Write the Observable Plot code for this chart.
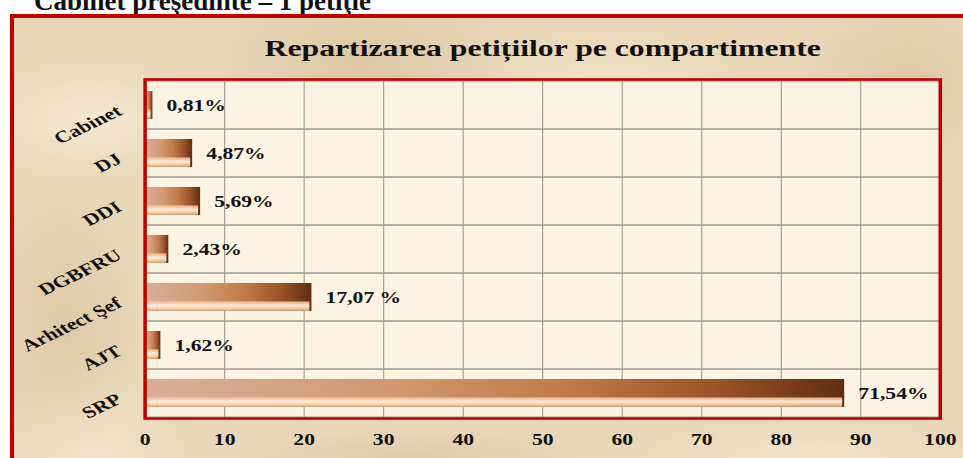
<!DOCTYPE html>
<html>
<head>
<meta charset="utf-8">
<script src="https://cdn.jsdelivr.net/npm/d3@7"></script>
<script src="https://cdn.jsdelivr.net/npm/@observablehq/plot@0.6"></script>
<style>
  body { margin: 0; background: #fff; }
  #page { position: relative; width: 963px; height: 458px; overflow: hidden; background: #fff; }
  #toptext { position: absolute; left: 34px; top: -12px; font: bold 27px/27px "Liberation Serif", serif; color: #111; white-space: nowrap; }
  #parch {
    position: absolute; left: 10px; top: 14px; width: 1000px; height: 520px; box-sizing: border-box;
    border: 4px solid #c00000;
    background:
      radial-gradient(ellipse 180px 90px at 8% 20%, rgba(255,246,228,0.55), transparent 70%),
      radial-gradient(ellipse 220px 120px at 35% 8%, rgba(196,162,118,0.30), transparent 70%),
      radial-gradient(ellipse 200px 100px at 60% 15%, rgba(255,244,222,0.45), transparent 70%),
      radial-gradient(ellipse 160px 120px at 90% 12%, rgba(200,168,126,0.30), transparent 70%),
      radial-gradient(ellipse 120px 200px at 5% 60%, rgba(200,168,128,0.30), transparent 70%),
      radial-gradient(ellipse 140px 160px at 8% 88%, rgba(255,246,228,0.45), transparent 70%),
      radial-gradient(ellipse 260px 60px at 40% 88%, rgba(198,164,122,0.30), transparent 70%),
      radial-gradient(ellipse 260px 60px at 80% 86%, rgba(255,244,224,0.40), transparent 70%),
      #e9d7b8;
  }
  #chart { position: absolute; left: 0; top: 0; transform: scaleX(1.35); transform-origin: 0 0; }
</style>
</head>
<body>
<div id="page">
  <div id="toptext">Cabinet preşedinte – 1 petiţie</div>
  <div id="parch"></div>
  <div id="chart"></div>
</div>
<script>
const chartTitle = "Repartizarea petițiilor pe compartimente";
const categories = ["Cabinet", "DJ", "DDI", "DGBFRU", "Arhitect Şef", "AJT", "SRP"];
const counts = [1, 6, 7, 3, 21, 2, 88];
const percentLabels = ["0,81%", "4,87%", "5,69%", "2,43%", "17,07 %", "1,62%", "71,54%"];
const xTicks = [0, 10, 20, 30, 40, 50, 60, 70, 80, 90, 100];

const rows = categories.map((c, i) => ({cat: c, count: counts[i], pct: percentLabels[i]}));

const gridColor = "#9d978f";

function defsMark() {
  const g = d3.create("svg:g");
  const defs = g.append("defs");
  const face = defs.append("linearGradient").attr("id", "barFace").attr("x1", 0).attr("x2", 1).attr("y1", 0).attr("y2", 0);
  [[0, "#d9ae98"], [0.35, "#cf9a72"], [0.6, "#c17a48"], [0.82, "#9a5228"], [1, "#5f2e10"]]
    .forEach(([o, c]) => face.append("stop").attr("offset", o).attr("stop-color", c));
  const bev = defs.append("linearGradient").attr("id", "barBevel").attr("x1", 0).attr("x2", 0).attr("y1", 0).attr("y2", 1);
  [[0, "#fff", 0], [0.64, "#fff", 0], [0.68, "#f0c29c", 0.85], [0.8, "#fff4e2", 0.95], [0.9, "#fcd9b4", 0.9], [1, "#d59d72", 0.9]]
    .forEach(([o, c, a]) => bev.append("stop").attr("offset", o).attr("stop-color", c).attr("stop-opacity", a));
  return g.node();
}

const chart = Plot.plot({
  width: 713,
  height: 458,
  marginLeft: 107,
  marginRight: 17,
  marginTop: 79,
  marginBottom: 40,
  x: {domain: [0, 100]},
  y: {domain: categories, padding: 0, axis: null},
  style: {background: "transparent", fontFamily: "'Liberation Serif', serif", fontSize: "16px", fontWeight: "bold", color: "#111"},
  marks: [
    defsMark,
    Plot.frame({fill: "#fcf3e3", stroke: "none"}),
    Plot.gridX(xTicks, {stroke: gridColor, strokeOpacity: 1, strokeWidth: 0.8}),
    Plot.barX(categories, {x1: 0, x2: 100, y: d => d, fill: "none", stroke: gridColor, strokeWidth: 1}),
    Plot.barX(rows, {x1: 0, x2: "count", y: "cat", fill: "url(#barFace)", insetTop: 10, insetBottom: 10}),
    Plot.barX(rows, {x1: 0, x2: "count", y: "cat", fill: "url(#barBevel)", insetTop: 10, insetBottom: 10, insetRight: 1.5}),
    Plot.frame({stroke: "#c00000", strokeWidth: 2.6}),
    Plot.axisX({ticks: xTicks, tickSize: 0, tickPadding: 15, fontSize: 16, fontWeight: "bold", label: null}),
    Plot.text(rows, {x: "count", y: "cat", text: "pct", dx: 10, textAnchor: "start", fontSize: 16, fontWeight: "bold", fill: "#111"}),
    Plot.text(categories, {y: d => d, text: d => d, frameAnchor: "left", dx: -19, dy: 4, rotate: -33, textAnchor: "end", fontSize: 16.5, fontWeight: "bold", fill: "#111"}),
    Plot.text([chartTitle], {frameAnchor: "top", dy: -31, lineAnchor: "middle", text: d => d, fontSize: 23.5, fontWeight: "bold", fill: "#111"})
  ]
});
document.getElementById("chart").appendChild(chart);
</script>
</body>
</html>
